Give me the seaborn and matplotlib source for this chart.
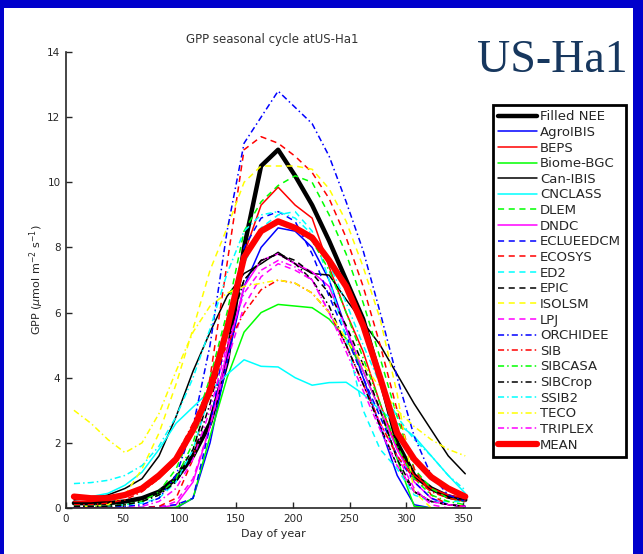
#!/usr/bin/env python3
"""GPP seasonal cycle at US-Ha1: model ensemble vs. filled NEE."""

import seaborn as sns
import matplotlib
matplotlib.use("Agg")
import matplotlib.pyplot as plt
from matplotlib.patches import Rectangle

# DATA (semi-monthly, day of year)
DAYS = [7, 22, 37, 52, 67, 82, 97, 112, 127, 142, 157, 172,
        187, 202, 217, 232, 247, 262, 277, 292, 307, 322, 337, 352]

filled_nee = [0.15, 0.15, 0.15, 0.2, 0.3, 0.5, 0.9, 1.6, 2.6, 4.5, 8.0, 10.5,
              11.0, 10.2, 9.3, 8.2, 7.0, 5.8, 4.0, 2.0, 1.0, 0.6, 0.35, 0.25]
agro_ibis = [0, 0, 0, 0, 0, 0, 0, 0.3, 2.0, 4.5, 6.8, 8.0,
             8.6, 8.5, 8.0, 7.0, 5.5, 4.0, 2.5, 1.0, 0.1, 0, 0, 0]
beps = [0.2, 0.2, 0.25, 0.35, 0.55, 0.9, 1.4, 2.3, 3.7, 5.6, 7.8, 9.3,
        9.85, 9.3, 8.9, 7.4, 6.0, 4.8, 3.2, 1.8, 1.0, 0.6, 0.4, 0.3]
biome_bgc = [0, 0, 0, 0, 0, 0, 0.02, 0.3, 2.2, 4.0, 5.4, 6.0,
             6.25, 6.2, 6.15, 5.8, 5.2, 4.2, 3.0, 1.5, 0.05, 0, 0, 0]
can_ibis = [0.25, 0.3, 0.4, 0.6, 0.9, 1.6, 2.8, 4.2, 5.4, 6.5, 7.2, 7.5,
            7.85, 7.5, 7.2, 7.15, 6.4, 5.7, 5.0, 4.1, 3.2, 2.4, 1.6, 1.05]
cnclass = [0.3, 0.35, 0.45, 0.7, 1.1, 1.8, 2.6, 3.1, 3.6, 4.1, 4.55, 4.35,
           4.33, 4.0, 3.77, 3.85, 3.86, 3.5, 3.0, 2.6, 2.2, 1.6, 1.0, 0.45]
dlem = [0.05, 0.05, 0.05, 0.1, 0.2, 0.5, 1.2, 2.4, 4.0, 6.0, 8.5, 9.4,
        9.9, 10.2, 10.0, 9.0, 7.8, 6.3, 4.6, 2.8, 1.2, 0.6, 0.3, 0.2]
dndc = [0, 0, 0, 0, 0, 0, 0.1, 0.8, 2.5, 4.8, 6.8, 7.6,
        7.8, 7.5, 7.25, 6.8, 5.5, 4.2, 3.0, 1.8, 0.8, 0.3, 0.1, 0.05]
eclue = [0.02, 0.02, 0.02, 0.02, 0.02, 0.05, 0.1, 0.3, 2.5, 5.5, 8.0, 8.9,
         9.1, 8.8, 7.8, 6.5, 5.3, 4.0, 2.8, 1.6, 0.8, 0.3, 0.1, 0.05]
ecosys = [0, 0, 0, 0, 0, 0.05, 0.3, 1.5, 4.0, 7.5, 11.0, 11.4,
          11.2, 10.8, 10.3, 9.5, 8.3, 6.8, 5.0, 3.0, 1.2, 0.4, 0.1, 0.05]
ed2 = [0.1, 0.1, 0.1, 0.1, 0.15, 0.3, 0.8, 1.8, 3.5, 5.5, 7.5, 8.6,
       9.0, 9.1, 8.5, 7.0, 5.2, 3.0, 1.8, 1.2, 0.4, 0.2, 0.2, 0.2]
epic = [0.1, 0.1, 0.1, 0.15, 0.3, 0.5, 1.0, 1.8, 3.5, 5.5, 7.0, 7.6,
        7.8, 7.6, 7.2, 6.6, 5.6, 4.4, 3.0, 1.5, 0.5, 0.2, 0.1, 0.05]
isolsm = [0.05, 0.05, 0.1, 0.4, 1.2, 2.3, 3.8, 5.5, 7.3, 8.6, 10.0, 10.5,
          10.5, 10.5, 10.4, 9.8, 8.8, 7.4, 5.8, 3.5, 0.5, 0, 0, 0]
lpj = [0, 0, 0, 0, 0, 0, 0.2, 0.9, 2.5, 4.5, 6.2, 7.1,
       7.5, 7.3, 7.0, 6.0, 5.0, 3.8, 2.6, 1.6, 0.6, 0.1, 0, 0]
orchidee = [0.05, 0.05, 0.05, 0.05, 0.1, 0.3, 1.0, 2.5, 5.0, 8.5, 11.2, 12.0,
            12.8, 12.3, 11.8, 10.8, 9.4, 7.9, 6.0, 4.0, 2.2, 1.0, 0.4, 0.2]
sib = [0.1, 0.1, 0.15, 0.25, 0.5, 0.9, 1.6, 2.6, 3.8, 5.0, 6.0, 6.7,
       7.0, 6.9, 6.6, 6.0, 5.0, 3.8, 2.6, 1.6, 0.9, 0.5, 0.3, 0.2]
sibcasa = [0.05, 0.05, 0.05, 0.1, 0.2, 0.4, 0.9, 2.0, 3.8, 5.8, 7.6, 8.5,
           8.8, 8.6, 8.2, 7.3, 6.0, 4.6, 3.2, 1.9, 0.9, 0.4, 0.2, 0.1]
sibcrop = [0.05, 0.05, 0.05, 0.1, 0.2, 0.4, 0.8, 1.6, 3.2, 5.3, 7.0, 7.6,
           7.8, 7.5, 7.0, 6.2, 5.0, 3.8, 2.5, 1.3, 0.5, 0.2, 0.1, 0.05]
ssib2 = [0.75, 0.78, 0.85, 1.0, 1.3, 1.9, 2.8, 4.0, 5.5, 7.2, 8.5, 9.0,
         9.1, 8.9, 8.4, 7.5, 6.3, 5.0, 3.8, 2.8, 2.1, 1.6, 1.0, 0.55]
teco = [3.0, 2.6, 2.1, 1.7, 2.0, 2.9, 4.2, 5.4, 6.2, 6.6, 6.8, 6.9,
        7.0, 6.9, 6.6, 6.0, 5.2, 4.4, 3.7, 3.0, 2.5, 2.1, 1.8, 1.6]
triplex = [0, 0, 0, 0, 0.05, 0.2, 0.6, 1.5, 3.0, 5.0, 6.6, 7.3,
           7.6, 7.4, 7.0, 6.0, 4.8, 3.6, 2.4, 1.3, 0.5, 0.2, 0.1, 0.05]
mean_gpp = [0.35, 0.3, 0.3, 0.4, 0.6, 1.0, 1.5, 2.4, 3.6, 5.5, 7.7, 8.5,
            8.8, 8.6, 8.3, 7.6, 6.8, 5.6, 4.0, 2.3, 1.5, 0.95, 0.6, 0.35]

# MATLAB-style pure colours
K, B, R, G, C, M, Y = ("#000000", "#0000ff", "#ff0000", "#00ff00",
                       "#00ffff", "#ff00ff", "#ffff00")

# (label, values, color, linestyle, linewidth)
SERIES = [
    ("Filled NEE", filled_nee, K, "-", 3.2),
    ("AgroIBIS", agro_ibis, B, "-", 1.1),
    ("BEPS", beps, R, "-", 1.1),
    ("Biome-BGC", biome_bgc, G, "-", 1.1),
    ("Can-IBIS", can_ibis, K, "-", 1.1),
    ("CNCLASS", cnclass, C, "-", 1.1),
    ("DLEM", dlem, G, "--", 1.1),
    ("DNDC", dndc, M, "-", 1.1),
    ("ECLUEEDCM", eclue, B, "--", 1.1),
    ("ECOSYS", ecosys, R, "--", 1.1),
    ("ED2", ed2, C, "--", 1.1),
    ("EPIC", epic, K, "--", 1.1),
    ("ISOLSM", isolsm, Y, "--", 1.1),
    ("LPJ", lpj, M, "--", 1.1),
    ("ORCHIDEE", orchidee, B, "-.", 1.1),
    ("SIB", sib, R, "-.", 1.1),
    ("SIBCASA", sibcasa, G, "-.", 1.1),
    ("SIBCrop", sibcrop, K, "-.", 1.1),
    ("SSIB2", ssib2, C, "-.", 1.1),
    ("TECO", teco, Y, "-.", 1.1),
    ("TRIPLEX", triplex, M, "-.", 1.1),
    ("MEAN", mean_gpp, R, "-", 4.5),
]

DASHES = {"-": None, "--": (4, 3), "-.": (4, 2, 1, 2)}

sns.set_style("ticks")
plt.rcParams["font.family"] = ["DejaVu Sans"]

fig = plt.figure(figsize=(6.43, 5.54), dpi=100)
fig.patch.set_facecolor("#0000cc")
fig.patches.append(Rectangle((4 / 643, 0), 629 / 643, 1 - 8 / 554,
                             transform=fig.transFigure, facecolor="white",
                             edgecolor="none", zorder=-10))

ax = fig.add_axes([66 / 643, 46 / 554, 414 / 643, 456 / 554])
ax.set_facecolor("none")

for label, vals, color, ls, lw in SERIES:
    sns.lineplot(x=DAYS, y=vals, ax=ax, color=color, linewidth=lw,
                 label=label, legend=False)
    ln = ax.get_lines()[-1]
    if DASHES[ls] is not None:
        ln.set_dashes(DASHES[ls])

ax.set_xlim(0, 365)
ax.set_ylim(0, 14)
ax.set_xticks(range(0, 351, 50))
ax.set_yticks(range(0, 15, 2))
ax.tick_params(direction="in", length=4, width=1, labelsize=7.5, pad=4)
for side in ("top", "right"):
    ax.spines[side].set_visible(False)
for side in ("left", "bottom"):
    ax.spines[side].set_linewidth(1.2)

ax.set_xlabel("Day of year", fontsize=8, labelpad=4)
ax.set_ylabel("GPP ($\\mu$mol m$^{-2}$ s$^{-1}$)", fontsize=8, labelpad=1)
fig.text(272 / 643, 1 - 40 / 554, "GPP seasonal cycle atUS-Ha1",
         fontsize=8.5, ha="center", va="center", color="#333333")
fig.text(552 / 643, 1 - 61 / 554, "US-Ha1", fontsize=33, ha="center",
         va="center", color="#17375e", family="Liberation Serif")

leg = ax.legend(loc="upper left", bbox_to_anchor=(493 / 643, 1 - 105 / 554),
                bbox_transform=fig.transFigure, fontsize=9.5, frameon=True,
                fancybox=False, edgecolor="black", framealpha=1,
                handlelength=2.9, handletextpad=0.25, labelspacing=0.2,
                borderaxespad=0, borderpad=0.4)
leg.get_frame().set_linewidth(2)

fig.savefig("out.png", dpi=100, facecolor=fig.get_facecolor())
